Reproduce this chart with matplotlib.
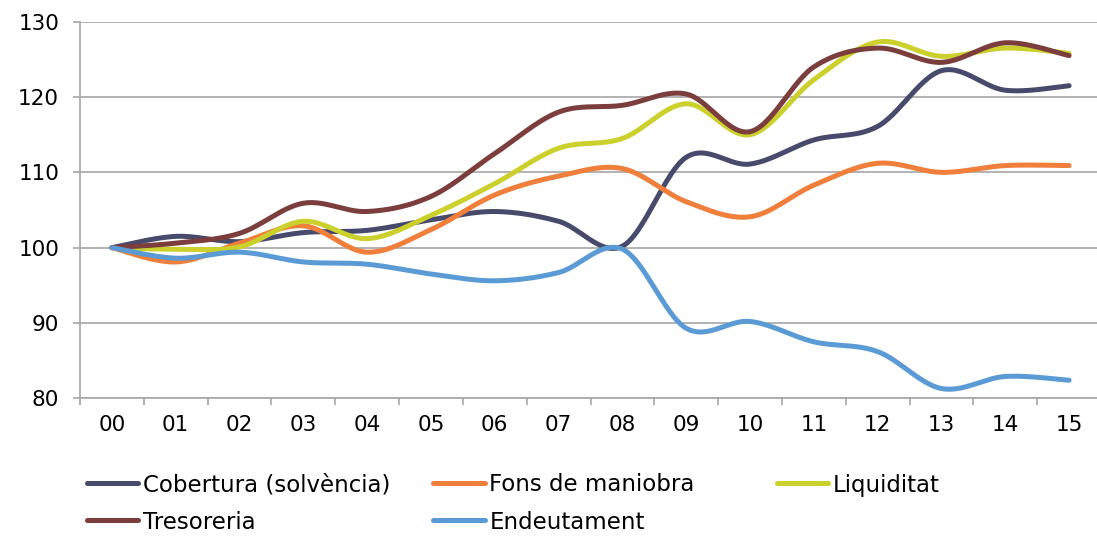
import matplotlib
matplotlib.use("Agg")
import matplotlib.pyplot as plt
from matplotlib.lines import Line2D
import numpy as np

years = ["00", "01", "02", "03", "04", "05", "06", "07",
         "08", "09", "10", "11", "12", "13", "14", "15"]

cobertura = [100, 101.5, 100.8, 102.0, 102.3, 103.7, 104.8, 103.5,
             100.2, 112.0, 111.1, 114.3, 116.1, 123.5, 120.9, 121.5]
fons = [100, 98.1, 100.6, 102.9, 99.4, 102.4, 107.0, 109.5,
        110.5, 106.1, 104.1, 108.3, 111.2, 110.0, 110.9, 110.9]
liquiditat = [100, 99.8, 100.1, 103.5, 101.2, 104.3, 108.5, 113.2,
              114.5, 119.1, 115.0, 122.3, 127.3, 125.4, 126.5, 125.8]
tresoreria = [100, 100.6, 101.9, 105.9, 104.8, 106.8, 112.5, 118.0,
              118.9, 120.4, 115.4, 124.0, 126.5, 124.6, 127.2, 125.5]
endeutament = [100, 98.6, 99.4, 98.1, 97.8, 96.5, 95.6, 96.7,
               99.8, 89.3, 90.2, 87.5, 86.2, 81.3, 82.9, 82.4]

series = [
    ("Cobertura (solvència)", cobertura, "#474a6b"),
    ("Fons de maniobra", fons, "#ef7f3a"),
    ("Liquiditat", liquiditat, "#cbd02c"),
    ("Tresoreria", tresoreria, "#7c3d3d"),
    ("Endeutament", endeutament, "#5b9bd5"),
]


def smooth(xs, ys, n=30):
    # excel-like smoothed line: cubic bezier through every point
    p = np.column_stack([xs, ys]).astype(float)
    p_ext = np.vstack([p[0], p, p[-1]])
    out = []
    t = np.linspace(0, 1, n)[:, None]
    for i in range(len(p) - 1):
        p0, p1, p2, p3 = p_ext[i], p_ext[i + 1], p_ext[i + 2], p_ext[i + 3]
        c1 = p1 + (p2 - p0) / 6
        c2 = p2 - (p3 - p1) / 6
        seg = ((1 - t) ** 3) * p1 + 3 * ((1 - t) ** 2) * t * c1 \
            + 3 * (1 - t) * t ** 2 * c2 + t ** 3 * p2
        out.append(seg if i == 0 else seg[1:])
    out = np.vstack(out)
    return out[:, 0], out[:, 1]


plt.rcParams['font.family'] = ['DejaVu Sans']
fig = plt.figure(figsize=(10.97, 5.41), dpi=100)
ax = fig.add_axes([80 / 1097, 1 - 398.3 / 541, 1021 / 1097, 376.6 / 541])

x = np.arange(len(years))
for name, vals, col in series:
    sx, sy = smooth(x, vals)
    ax.plot(sx, sy, color=col, lw=3.6, solid_capstyle="round", label=name)

ax.set_xlim(-0.5, len(years) - 0.5)
ax.set_ylim(80, 130)
ax.set_yticks([80, 90, 100, 110, 120, 130])
ax.yaxis.grid(True, color="#a6a6a6", lw=1.2)
ax.set_axisbelow(True)

ax.set_xticks(np.arange(-0.5, len(years), 1))
ax.set_xticklabels([])
ax.set_xticks(x, minor=True)
ax.set_xticklabels(years, minor=True)
ax.tick_params(axis="x", which="major", length=5, width=1.2, color="#a6a6a6", direction="out")
ax.tick_params(axis="x", which="minor", length=0, pad=12, labelsize=15.5)
ax.tick_params(axis="y", length=5, width=1.2, color="#a6a6a6", pad=10, labelsize=15.5)

for s in ["top", "right"]:
    ax.spines[s].set_visible(False)
for s in ["left", "bottom"]:
    ax.spines[s].set_color("#a6a6a6")
    ax.spines[s].set_linewidth(1.2)

handles = {name: Line2D([], [], color=col, lw=3.6, solid_capstyle="round")
           for name, vals, col in series}

legend_cols = [
    (["Cobertura (solvència)", "Tresoreria"], 0.079, 0.0695),
    (["Fons de maniobra", "Endeutament"], 0.395, 0.0695),
    (["Liquiditat"], 0.708, 0.1035),
]
for names, lx, ly in legend_cols:
    fig.legend([handles[n] for n in names], names, loc="center left",
               bbox_to_anchor=(lx, ly), frameon=False, fontsize=16.5,
               handlelength=2.25, handletextpad=0.2, borderpad=0,
               borderaxespad=0, labelspacing=0.62)

fig.savefig("out.png", dpi=100)
